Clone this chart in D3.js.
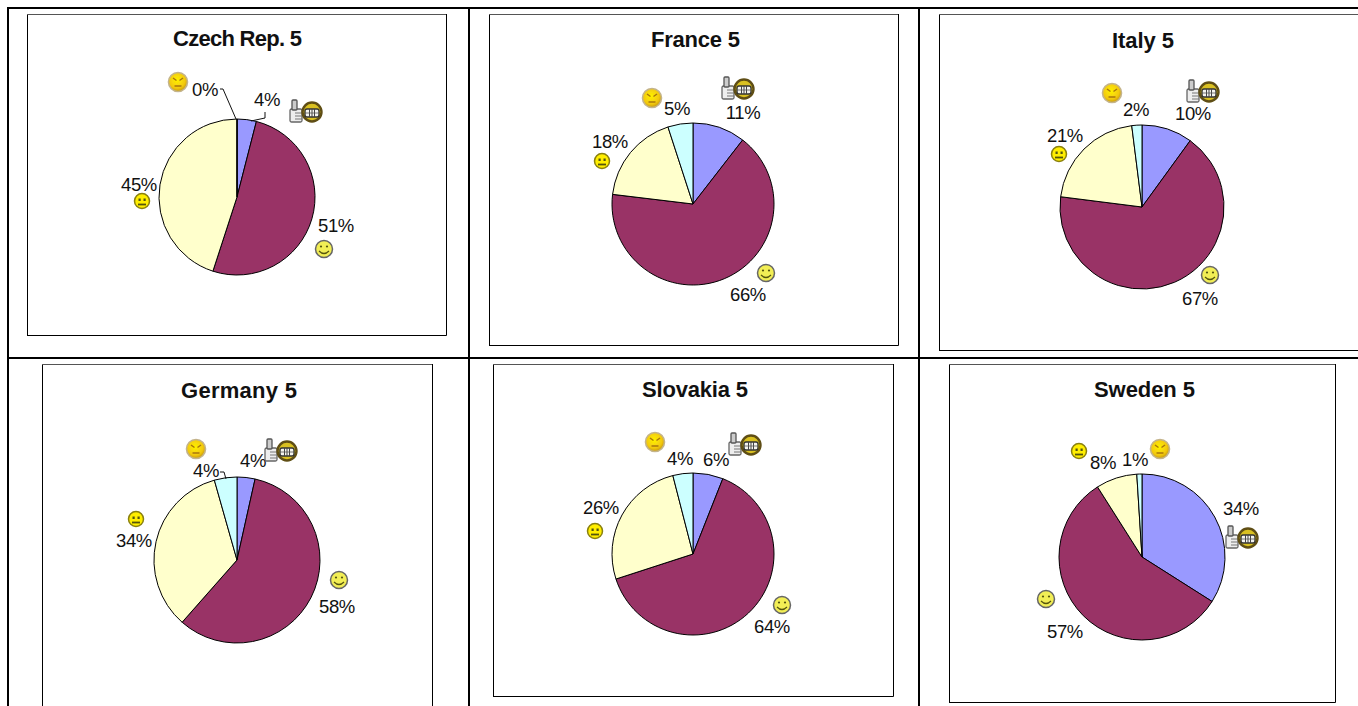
<!DOCTYPE html>
<html><head><meta charset="utf-8">
<script src="https://cdnjs.cloudflare.com/ajax/libs/d3/7.8.5/d3.min.js"></script>
<style>html,body{margin:0;padding:0;background:#fff;overflow:hidden}svg{display:block}
text{font-family:"Liberation Sans",Arial,sans-serif;fill:#111}</style></head><body>
<script>
const titles=["Czech Rep. 5","France 5","Italy 5","Germany 5","Slovakia 5","Sweden 5"];
const moods=["very good","good","neutral","bad"];
const colours=["#9999ff","#993366","#ffffcc","#ccffff"];
const veryGood=[4,10.5,10,3.5,6,34];
const good=[51,66.4,67,58,64,57];
const neutral=[45,18.1,21,34.1,26,8];
const bad=[0,5,2,4.4,4,1];
// layout
const frames=[[27,14,420,322],[489,14,410,332],[939,14,425,337],[42,364,391,350],[493,364,401,333],[949,364,387,339]];
const pies=[[237,197,78],[693,204,81],[1142,207,82],[237,560,83],[693,554,81],[1142,557,83]];
const titleAt=[[237.5,38],[695.5,39],[1143,40],[239,390],[695,389],[1144.5,389]];
const titleWidth=[129,89,62,116,106,101];
const labelAt=[
 [[267,100],[336,226],[139,185],[205,90]],
 [[743,113],[748,295],[610,142],[677,109]],
 [[1193,114],[1200,299],[1065,136],[1136,110]],
 [[253,461],[337,607],[134,541],[206,471]],
 [[716,460],[772,627],[601,508],[680,459]],
 [[1241,509],[1065,632],[1103,463],[1135,460]]];
const iconAt=[
 [[312,112],[324,249],[142,201],[178,82]],
 [[744,89],[766,273],[602,161],[652,98]],
 [[1209,92],[1210,275],[1059,154],[1112,93]],
 [[287,451],[339,580],[136,519],[196,449]],
 [[751,445],[782,605],[595,531],[655,442]],
 [[1248,538],[1046,599],[1079,451],[1160,449]]];
const leaders=[
 [[[220,89],[223,89],[236,119]],[[265,112],[265,118],[251,121]]],
 [],[],
 [[[220,472],[224,472],[226,479]]],
 [],[]];

const svg=d3.select("body").append("svg").attr("width",1358).attr("height",706);
const defs=svg.append("defs");
const g1=defs.append("radialGradient").attr("id","gold").attr("cx","45%").attr("cy","40%").attr("r","60%");
g1.append("stop").attr("offset","0%").attr("stop-color","#fff200");
g1.append("stop").attr("offset","70%").attr("stop-color","#f2c80f");
g1.append("stop").attr("offset","100%").attr("stop-color","#c79a10");
defs.append("filter").attr("id","soft").append("feGaussianBlur").attr("stdDeviation",0.45);

const grid=d3.path();
grid.moveTo(7,8);grid.lineTo(1358,8);
grid.moveTo(8,8);grid.lineTo(8,706);
grid.moveTo(469,8);grid.lineTo(469,706);
grid.moveTo(919,8);grid.lineTo(919,706);
grid.moveTo(8,358);grid.lineTo(1358,358);
svg.append("path").attr("d",grid.toString()).attr("fill","none").attr("stroke","#000").attr("stroke-width",2);

const pie=d3.pie().sort(null).value(d=>d);
function drawIcon(g,type){
 g.attr("filter","url(#soft)");
 if(type===0){
  const t=g.append("g").attr("transform","translate(-16,0)");
  t.append("rect").attr("x",-6).attr("y",-3).attr("width",12).attr("height",13).attr("rx",1.5).attr("fill","#eee").attr("stroke","#666").attr("stroke-width",1.3);
  t.append("rect").attr("x",-4).attr("y",-12).attr("width",5).attr("height",10).attr("rx",1).attr("fill","#ccc").attr("stroke","#555").attr("stroke-width",1.3);
  [1,4,7].forEach(y=>t.append("line").attr("x1",-1).attr("x2",6).attr("y1",y).attr("y2",y).attr("stroke","#777"));
  g.append("circle").attr("r",9.5).attr("fill","#d9c020").attr("stroke","#5e4e12").attr("stroke-width",2.4);
  g.append("rect").attr("x",-7).attr("y",-3).attr("width",14).attr("height",8).attr("rx",2).attr("fill","#f4f4f0").attr("stroke","#333").attr("stroke-width",1.4);
  [-2.5,0,2.5].forEach(x=>g.append("line").attr("x1",x).attr("x2",x).attr("y1",-3).attr("y2",5).attr("stroke","#444").attr("stroke-width",1));
  g.append("line").attr("x1",-7).attr("x2",7).attr("y1",1).attr("y2",1).attr("stroke","#555").attr("stroke-width",.8);
  return;
 }
 const r=type===2?7.5:type===3?9.5:8.5;
 g.append("circle").attr("r",r).attr("fill",type===2?"#ffee00":type===1?"#f2ee55":"url(#gold)")
  .attr("stroke",type===1?"#666":type===2?"#8a8010":"#c4b48c").attr("stroke-width",type===3?1.6:1.5);
 const dark=type===3?"#a8760a":"#55550f";
 if(type===1){
  g.append("circle").attr("cx",-3).attr("cy",-2.5).attr("r",1.1).attr("fill",dark);
  g.append("circle").attr("cx",3).attr("cy",-2.5).attr("r",1.1).attr("fill",dark);
  g.append("path").attr("d","M-5,2 Q0,7 5,2").attr("fill","none").attr("stroke",dark).attr("stroke-width",1.2);
 } else if(type===2){
  g.append("rect").attr("x",-3.5).attr("y",-2.5).attr("width",2.2).attr("height",2.5).attr("fill",dark);
  g.append("rect").attr("x",1.5).attr("y",-2.5).attr("width",2.2).attr("height",2.5).attr("fill",dark);
  g.append("line").attr("x1",-4).attr("x2",4).attr("y1",3.5).attr("y2",3.5).attr("stroke",dark).attr("stroke-width",1.8);
 } else {
  g.append("path").attr("d","M-5,-4 L-1.5,-1.5 M5,-4 L1.5,-1.5").attr("fill","none").attr("stroke",dark).attr("stroke-width",1.5);
  g.append("path").attr("d","M-3.5,4 L3.5,4").attr("fill","none").attr("stroke",dark).attr("stroke-width",1.5);
 }
}
titles.forEach((title,i)=>{
 const vals=[veryGood[i],good[i],neutral[i],bad[i]];
 const [fx,fy,fw,fh]=frames[i];
 const p=svg.append("g");
 p.append("path").attr("d",`M${fx+.5},${fy+fh}V${fy}`).attr("fill","none").attr("stroke","#000");
 p.append("path").attr("d",`M${fx},${fy+.5}H${fx+fw}`).attr("fill","none").attr("stroke","#555");
 p.append("path").attr("d",`M${fx+.5},${fy+fh-.5}H${fx+fw-.5}V${fy}`).attr("fill","none").attr("stroke","#000");
 const [cx,cy,R]=pies[i];
 const arc=d3.arc().innerRadius(0).outerRadius(R);
 p.append("g").attr("transform",`translate(${cx},${cy})`).selectAll("path").data(pie(vals)).join("path")
  .attr("d",arc).attr("fill",(d,k)=>colours[k]).attr("stroke","#000").attr("stroke-width",1);
 (leaders[i]||[]).forEach(l=>p.append("path").attr("d",d3.line()(l)).attr("fill","none").attr("stroke","#111"));
 p.append("text").attr("x",titleAt[i][0]).attr("y",titleAt[i][1]).attr("dy","0.35em").attr("text-anchor","middle")
  .attr("font-weight","bold").attr("font-size",22).attr("textLength",titleWidth[i]).attr("lengthAdjust","spacing").text(title);
 vals.forEach((v,k)=>{
  p.append("text").attr("x",labelAt[i][k][0]).attr("y",labelAt[i][k][1]).attr("dy","0.35em").attr("text-anchor","middle")
   .attr("font-size",18.5).attr("letter-spacing",-0.4).text(Math.round(v)+"%");
  drawIcon(p.append("g").attr("transform",`translate(${iconAt[i][k][0]},${iconAt[i][k][1]})`),k);
 });
});
</script></body></html>
